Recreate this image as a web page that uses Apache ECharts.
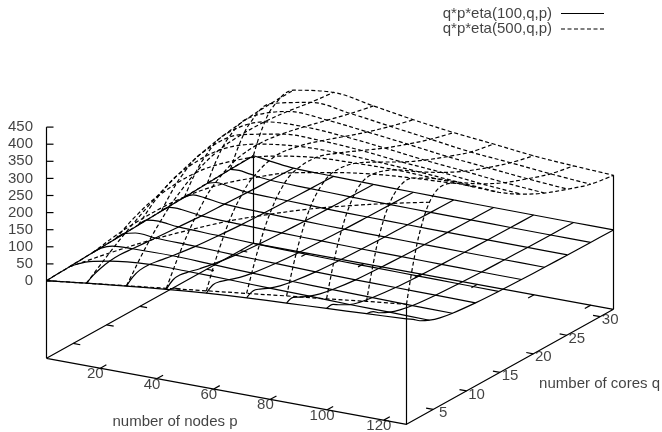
<!DOCTYPE html>
<html><head><meta charset="utf-8">
<style>html,body{margin:0;padding:0;background:#fff}#c{width:662px;height:432px}</style>
<script src="https://cdn.jsdelivr.net/npm/echarts@6/dist/echarts.min.js"></script>
</head><body><div id="c"></div>
<script>
// Sample positions
const pValues = [1,4,8,15.1,29.2,43.3,57.4,71.6,85.7,99.8,113.9,128];
const qValues = [1,2,3,4.44,6,7.89,11.33,14.78,18.22,21.67,25.11,28.56,32];
const pMeshIdx = [0,3,4,5,6,7,8,9,10,11];
const qMeshIdx = [0,3,5,6,7,8,9,10,11,12];
const pTicks = [20,40,60,80,100,120];
const qTicks = [5,10,15,20,25,30];
const zTicks = [0,50,100,150,200,250,300,350,400,450];
// z per row of p, column of q
const zN100 = [
 [1,2,3,4.4,6,7.8,11,14.5,18,21,24.5,27.5,30],
 [4,8,12,17,21,26,31,33,33,32,31,29,27],
 [8,15,22,30,35,38,39,36,33,30,27,24,22],
 [15,27,35,42,44,41,35,30,25,22,19,17,15],
 [28,45,53,54,49,42,32,26,21,18,16,14,12.5],
 [40,57,60,54,46,38,28,22,18,15,13,11.5,10.3],
 [50,64,62,52,42,34,25,19,16,13,11.4,10.1,9],
 [58,68,62,49,39,31,22,17,14,12,10.3,9,8],
 [64,70,60,47,37,29,20,16,13,11,9.4,8.3,7.4],
 [70,71,59,44,34,27,19,15,12,10,8.7,7.7,6.8],
 [76,71,57,43,33,25,18,14,11,9.5,8.2,7.2,6.4],
 [82,70,55,41,31,24,17,13,10.6,8.9,7.7,6.8,6]
];
const zN500 = [
 [1,2,3,4.4,6,7.9,11.3,14.7,18.1,21.5,24.9,28.2,31.5],
 [4,8,12,17.7,24,31,44.5,57,70,82,93,103,113],
 [8,16,24,35,47,62,87,109,130,147,163,175,185],
 [15,30,45,66,88,112,152,184,208,225,235,241,243],
 [29,57,86,124,160,198,247,275,284,284,277,266,258],
 [43,85,125,176,222,265,305,315,307,291,273,255,240],
 [57,112,162,224,273,312,339,330,309,284,260,239,221],
 [71,137,197,265,316,349,356,332,302,272,246,223,205],
 [85,163,229,302,347,371,361,327,290,258,231,207,193],
 [98,187,260,333,377,388,363,320,281,247,220,197,180],
 [112,211,290,361,395,398,359,311,269,235,209,186,172],
 [125,233,315,386,413,404,355,303,260,226,200,177,166]
];
const names = ['q*p*eta(100,q,p)','q*p*eta(500,q,p)'];

// gnuplot-style view: p and q ranges and z base level
const pMin=1,pMax=128,qMin=1,qMax=32,zBase=-226;
function proj(p,q,z){
  const u=(p-pMin)/(pMax-pMin), v=(q-qMin)/(qMax-qMin);
  return [46.5+360*u+207*v, 281+66*u-115*v-0.342*z];
}
const FONT='"Liberation Sans", Arial, sans-serif';
const W=1.2;
const series=[];
function lineS(data,opt){
  series.push(Object.assign({type:'line',data,symbol:'none',silent:true,animation:false,clip:false,
    lineStyle:{color:'#000',width:W}},opt||{}));
}
function surface(z,name,dash){
  const style={color:'#000',width:W,type:dash?[4,2.5]:'solid'};
  pMeshIdx.forEach(i=>lineS(qValues.map((q,j)=>proj(pValues[i],q,z[i][j])),{name,smooth:0.35,lineStyle:style}));
  qMeshIdx.forEach(j=>lineS(pValues.map((p,i)=>proj(p,qValues[j],z[i][j])),{name,smooth:0.35,lineStyle:style}));
}
surface(zN100,names[0],false);
surface(zN500,names[1],true);

// box: base rectangle and corner posts
lineS([proj(pMin,qMin,zBase),proj(pMax,qMin,zBase),proj(pMax,qMax,zBase),proj(pMin,qMax,zBase),proj(pMin,qMin,zBase)]);
lineS([proj(pMin,qMin,zBase),proj(pMin,qMin,450)]);
lineS([proj(pMin,qMax,zBase),proj(pMin,qMax,zN100[0][12])]);
lineS([proj(pMax,qMax,zBase),proj(pMax,qMax,zN500[11][12])]);
lineS([proj(pMax,qMin,zBase),proj(pMax,qMin,zN500[11][0])]);

// ticks
const labels=[];
pTicks.forEach(t=>{
  lineS([proj(t,qMin,zBase),proj(t,qMin+0.9,zBase)]);
  lineS([proj(t,qMax,zBase),proj(t,qMax-0.9,zBase)]);
  const a=proj(t,qMin,zBase);
  labels.push({value:[a[0]-5,a[1]+6],text:String(t),align:'center'});
});
qTicks.forEach(t=>{
  lineS([proj(pMax,t,zBase),proj(pMax-2.5,t,zBase)]);
  lineS([proj(pMin,t,zBase),proj(pMin+2.5,t,zBase)]);
  const a=proj(pMax,t,zBase);
  labels.push({value:[a[0]+10,a[1]+3.5],text:String(t),align:'center'});
});
zTicks.forEach(t=>{
  const a=proj(pMin,qMin,t);
  lineS([a,[a[0]+7,a[1]]]);
  labels.push({value:[33,a[1]],text:String(t),align:'right'});
});
labels.push({value:[175,421.5],text:'number of nodes p',align:'center'});
labels.push({value:[660,384],text:'number of cores q',align:'right'});
labels.push({value:[552,14],text:names[0],align:'right'});
labels.push({value:[552,29],text:names[1],align:'right'});

// key samples
lineS([[561,13.5],[604,13.5]],{name:names[0]});
lineS([[561,29],[604,29]],{name:names[1],lineStyle:{color:'#000',width:W,type:[4,2.5]}});

series.push({type:'scatter',silent:true,animation:false,clip:false,symbolSize:0,
  data:labels.map(l=>({value:l.value,label:{show:true,position:'inside',formatter:l.text,align:l.align,verticalAlign:'middle',
    color:'#111',fontSize:15,fontFamily:FONT}}))});

const chart=echarts.init(document.getElementById('c'),null,{renderer:'canvas',width:662,height:432});
chart.setOption({
  backgroundColor:'#fff',animation:false,
  grid:{left:0,right:0,top:0,bottom:0},
  xAxis:{type:'value',min:0,max:662,show:false},
  yAxis:{type:'value',min:0,max:432,inverse:true,show:false},
  series
});
</script></body></html>
